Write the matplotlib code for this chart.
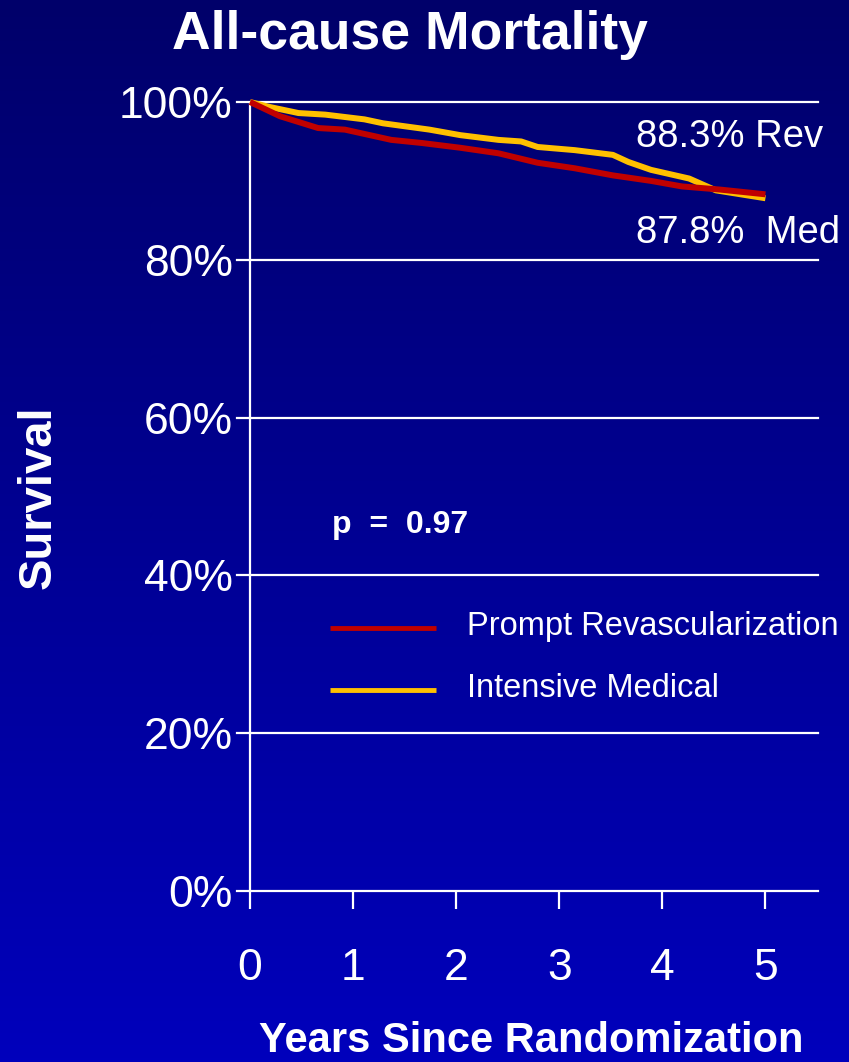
import numpy as np
import matplotlib
matplotlib.use("Agg")
import matplotlib.pyplot as plt
from matplotlib.colors import LinearSegmentedColormap

plt.rcParams['font.family'] = ['Liberation Sans', 'DejaVu Sans']

rev_years = [0, 0.29, 0.66, 0.92, 1.37, 1.67, 2.04, 2.41, 2.79, 3.15, 3.52, 3.89, 4.19, 4.56, 5.0]
rev_surv = [100, 98.2, 96.7, 96.5, 95.2, 94.8, 94.2, 93.5, 92.3, 91.6, 90.7, 90.0, 89.3, 88.9, 88.3]

med_years = [0, 0.18, 0.47, 0.73, 1.11, 1.29, 1.74, 2.04, 2.41, 2.63, 2.79, 3.15, 3.52, 3.67, 3.89, 4.26, 4.52, 5.0]
med_surv = [100, 99.4, 98.6, 98.4, 97.8, 97.3, 96.5, 95.8, 95.2, 95.0, 94.3, 93.9, 93.3, 92.4, 91.4, 90.3, 88.8, 87.8]

x_ticks = [0, 1, 2, 3, 4, 5]
y_ticks = [0, 20, 40, 60, 80, 100]
y_labels = ['0%', '20%', '40%', '60%', '80%', '100%']

RED = '#C00000'
GOLD = '#FFC000'

fig = plt.figure(figsize=(8.49, 10.62), dpi=100)

# background: navy at the top fading to brighter blue at the bottom
bg = fig.add_axes([0, 0, 1, 1], zorder=-10)
cmap = LinearSegmentedColormap.from_list('bg', ['#00006A', '#0000BC'])
grad = np.linspace(0, 1, 256).reshape(-1, 1)
bg.imshow(grad, aspect='auto', cmap=cmap, extent=[0, 1, 0, 1])
bg.axis('off')

ax = fig.add_axes([0.2792, 0.16102, 0.6843, 0.74293])
ax.set_facecolor('none')
ax.set_xlim(-0.126, 5.51)
ax.set_ylim(0, 100)

for s in ['top', 'right', 'left']:
    ax.spines[s].set_visible(False)
ax.spines['bottom'].set_color('white')
ax.spines['bottom'].set_linewidth(1.6)

for y in y_ticks[1:]:
    ax.axhline(y, color='white', lw=1.6, clip_on=False, zorder=1)
ax.axvline(0, color='white', lw=1.6, zorder=1)

ax.set_xticks(x_ticks)
ax.set_xticklabels([str(t) for t in x_ticks])
ax.set_yticks(y_ticks)
ax.set_yticklabels(y_labels)
ax.tick_params(axis='x', colors='white', direction='out', length=13, width=1.6,
               labelsize=32, pad=28)
ax.tick_params(axis='y', colors='white', length=0, labelsize=32, pad=3)

ax.plot(med_years, med_surv, color=GOLD, lw=4.3, solid_capstyle='butt', zorder=3, clip_on=False)
ax.plot(rev_years, rev_surv, color=RED, lw=4.3, solid_capstyle='butt', zorder=4, clip_on=False)

ax.text(3.74, 95.6, '88.3% Rev', color='white', fontsize=27.5,
        ha='left', va='center')
ax.text(3.74, 83.4, '87.8%  Med', color='white', fontsize=27.5,
        ha='left', va='center', clip_on=False)
ax.text(0.8, 46.4, 'p  =  0.97', color='white', fontsize=23, fontweight='bold',
        ha='left', va='center')

# legend drawn by hand
ax.plot([0.78, 1.8], [33.3, 33.3], color=RED, lw=3.5, solid_capstyle='butt')
ax.plot([0.78, 1.8], [25.5, 25.5], color=GOLD, lw=3.5, solid_capstyle='butt')
ax.text(2.1, 33.5, 'Prompt Revascularization', color='white', fontsize=23.5,
        ha='left', va='center')
ax.text(2.1, 25.7, 'Intensive Medical', color='white', fontsize=23.5,
        ha='left', va='center')

fig.text(0.483, 0.967, 'All-cause Mortality', color='white', fontsize=38.5,
         fontweight='bold', ha='center', va='center')
fig.text(0.045, 0.532, 'Survival', color='white', fontsize=34, fontweight='bold',
         rotation=90, ha='center', va='center')
fig.text(0.626, 0.0195, 'Years Since Randomization', color='white', fontsize=30,
         fontweight='bold', ha='center', va='center')

fig.savefig('out.png', dpi=100)
